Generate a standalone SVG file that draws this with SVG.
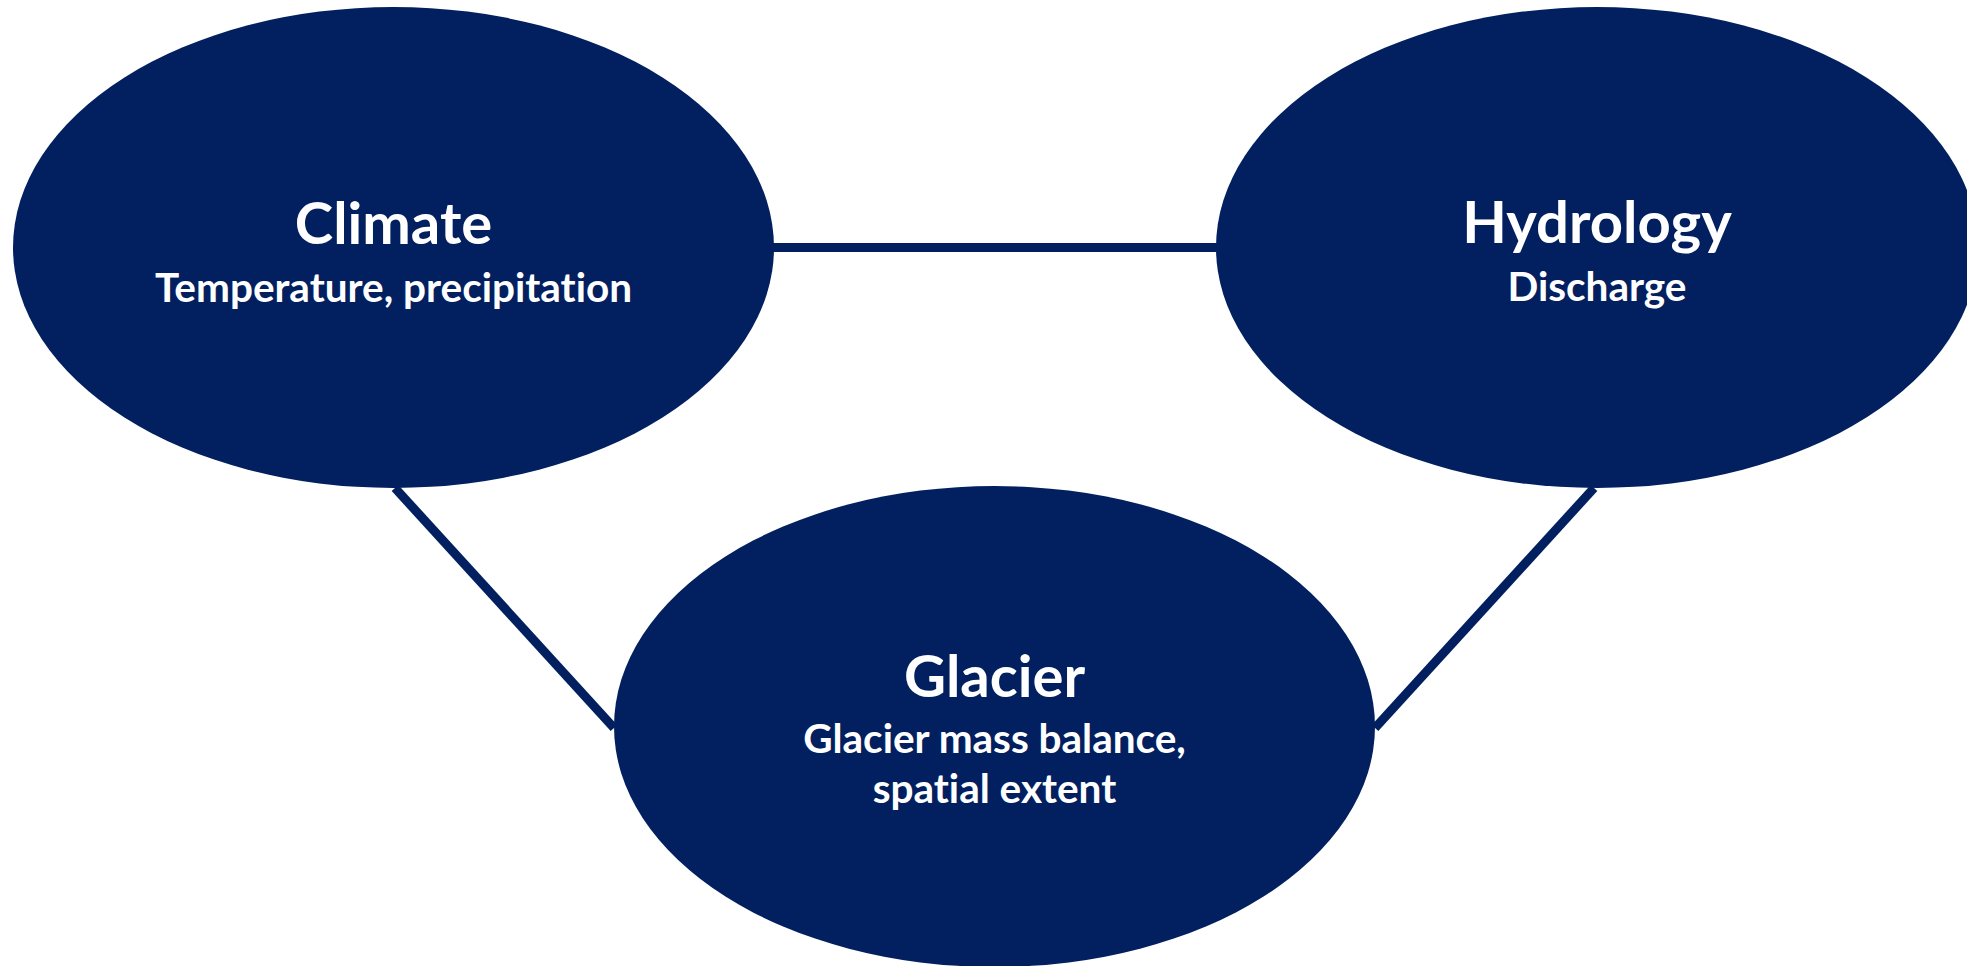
<svg xmlns="http://www.w3.org/2000/svg" width="1967" height="966" viewBox="0 0 1967 966">
<style>
.node{fill:#02205F;}
.conn{stroke:#02205F;stroke-width:9;fill:none;}
.t{font-family:Lato,"Open Sans","Liberation Sans",sans-serif;font-weight:bold;fill:#ffffff;text-anchor:middle;font-variant-ligatures:none;font-feature-settings:"liga" 0,"dlig" 0;}
.h{font-size:58px;}
.s{font-size:40.5px;}
</style>
<rect width="1967" height="966" fill="#ffffff"/>
<g id="connectors">
<line class="conn" x1="770" y1="247.5" x2="1220" y2="247.5"/>
<line class="conn" x1="395" y1="488" x2="614" y2="728"/>
<line class="conn" x1="1594" y1="488" x2="1375" y2="728"/>
</g>
<g id="climate">
<ellipse class="node" cx="393.5" cy="247.5" rx="380.5" ry="240.5"/>
<text class="t h" x="393.5" y="244">Climate</text>
<text class="t s" x="393.5" y="302">Temperature, precipitation</text>
</g>
<g id="hydrology">
<ellipse class="node" cx="1597" cy="247.5" rx="381" ry="240.5"/>
<text class="t h" x="1597" y="243">Hydrology</text>
<text class="t s" x="1597" y="301">Discharge</text>
</g>
<g id="glacier">
<ellipse class="node" cx="994.5" cy="726.5" rx="380.5" ry="240.5"/>
<text class="t h" x="994.5" y="697">Glacier</text>
<text class="t s" x="994.5" y="753">Glacier mass balance,</text>
<text class="t s" x="994.5" y="803">spatial extent</text>
</g>
</svg>
